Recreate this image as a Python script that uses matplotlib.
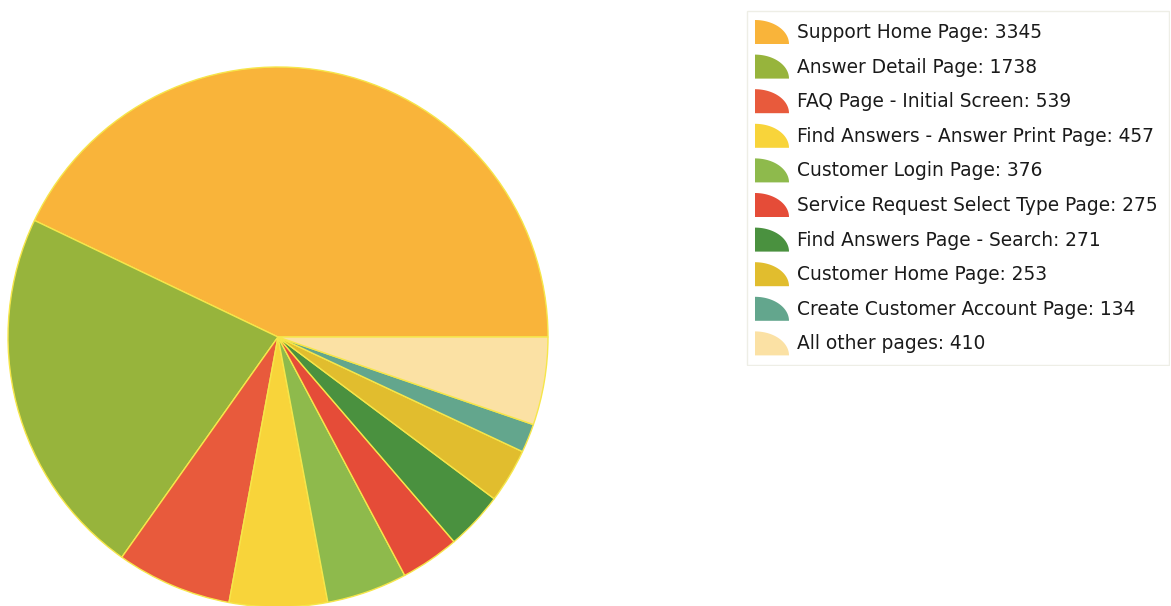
import matplotlib
matplotlib.use("Agg")
import matplotlib.pyplot as plt
from matplotlib.patches import Polygon, Rectangle
import numpy as np

labels = ["Support Home Page", "Answer Detail Page", "FAQ Page - Initial Screen",
          "Find Answers - Answer Print Page", "Customer Login Page",
          "Service Request Select Type Page", "Find Answers Page - Search",
          "Customer Home Page", "Create Customer Account Page", "All other pages"]
values = [3345, 1738, 539, 457, 376, 275, 271, 253, 134, 410]
colors = ["#F9B43A", "#97B43C", "#E85A3C", "#F8D43A", "#8EBA4C",
          "#E54C38", "#4A913F", "#E1BD2E", "#63A68D", "#FBE1A4"]

W, H = 1171, 606
fig = plt.figure(figsize=(W / 100, H / 100), dpi=100)
fig.patch.set_facecolor("white")

# Pie axes: centre (278, 337) px, radius 270 px
cx, cy, r = 278, 337, 270
ax = fig.add_axes([(cx - r) / W, (H - cy - r) / H, 2 * r / W, 2 * r / H])
ax.pie(values, colors=colors, startangle=0, counterclock=True,
       wedgeprops=dict(edgecolor="#F6E64A", linewidth=1.0))
ax.set_xlim(-1, 1)
ax.set_ylim(-1, 1)
ax.set_aspect("auto")
ax.axis("off")

# Legend axes in pixel units
lx0, lx1, ly0, ly1 = 746, 1170, 10, 366
lax = fig.add_axes([lx0 / W, (H - ly1) / H, (lx1 - lx0) / W, (ly1 - ly0) / H])
lax.set_xlim(lx0, lx1)
lax.set_ylim(ly1, ly0)
lax.axis("off")
lax.add_patch(Rectangle((lx0 + 1, ly0 + 1), lx1 - lx0 - 2, ly1 - ly0 - 2,
                        facecolor="white", edgecolor="#EEEEE6", linewidth=1.0))

row0, dy = 32, 34.6
t = np.linspace(0, np.pi / 2, 30)
for i, (lab, val, col) in enumerate(zip(labels, values, colors)):
    yc = row0 + i * dy
    bx, by = 755, yc + 12
    pts = [(bx, by)] + [(bx + 34 * np.cos(a), by - 24 * np.sin(a)) for a in t]
    lax.add_patch(Polygon(pts, closed=True, facecolor=col, edgecolor="none"))
    lax.text(797, yc + 0.5, f"{lab}: {val}", fontsize=13.4, color="#1A1A1A",
             va="center", ha="left", family="DejaVu Sans")

fig.savefig("out.png", dpi=100, facecolor="white")
